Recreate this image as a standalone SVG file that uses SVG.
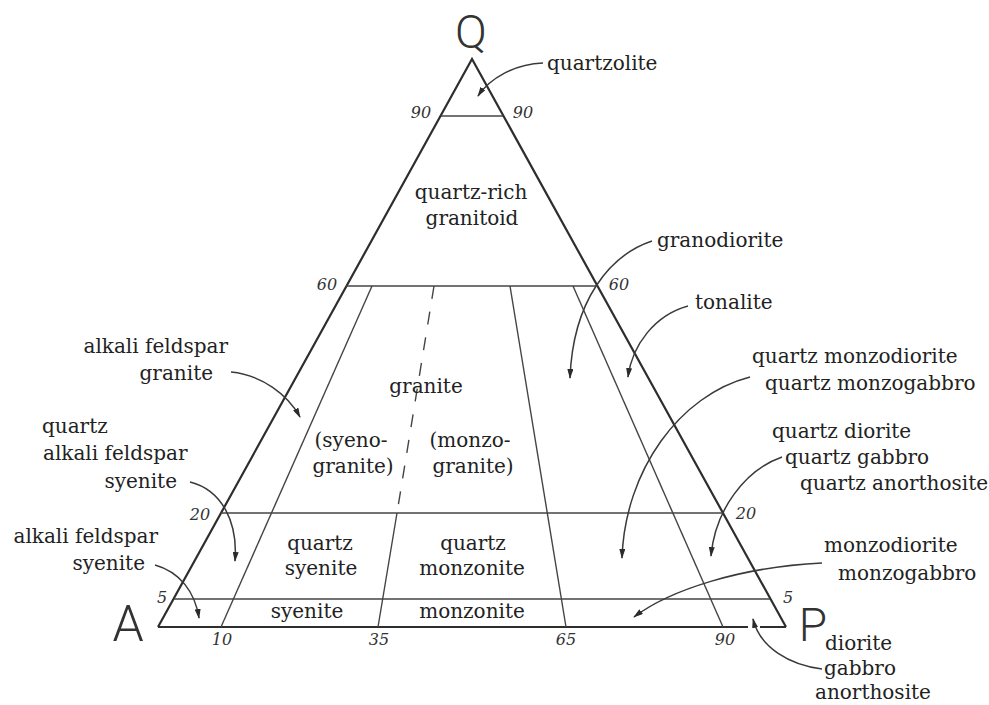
<svg xmlns="http://www.w3.org/2000/svg" width="989" height="705" viewBox="0 0 989 705">
<defs>
<style>
.side{fill:none;stroke:#2e2e2e;stroke-width:2.2;stroke-linejoin:miter}
.ln{fill:none;stroke:#444;stroke-width:1.4}
.dash{fill:none;stroke:#444;stroke-width:1.4;stroke-dasharray:13 13}
.arr{fill:none;stroke:#3a3a3a;stroke-width:1.5;marker-end:url(#ah)}
.lbl{font-family:"DejaVu Serif","Liberation Serif",serif;font-size:20px;fill:#222}
.tick{font-family:"DejaVu Serif","Liberation Serif",serif;font-style:italic;font-size:16px;fill:#333}
.big{font-family:Roboto,"Liberation Sans",sans-serif;font-weight:300;fill:#333}
</style>
<marker id="ah" viewBox="0 0 10 6" refX="9" refY="3" markerWidth="10" markerHeight="6" markerUnits="userSpaceOnUse" orient="auto">
<path d="M0,0 L10,3 L0,6 Z" fill="#2b2b2b"/>
</marker>
</defs>
<rect width="989" height="705" fill="#fff"/>

<g id="triangle">
<path class="side" d="M158,627 L472,59 L786,627"/>
<path class="side" d="M158,627 L748,627 M760,627 L786,627"/>
</g>

<g id="field-lines">
<line class="ln" x1="441" y1="116" x2="503" y2="116"/>
<line class="ln" x1="346" y1="286" x2="598" y2="286"/>
<line class="ln" x1="221" y1="513" x2="723" y2="513"/>
<line class="ln" x1="174" y1="599" x2="770" y2="599"/>
<line class="ln" x1="372" y1="286" x2="221" y2="627"/>
<line class="dash" x1="434" y1="286" x2="397" y2="513"/>
<line class="ln" x1="397" y1="513" x2="378" y2="627"/>
<line class="ln" x1="510" y1="286" x2="566" y2="627"/>
<line class="ln" x1="573" y1="286" x2="723" y2="627"/>
</g>

<g id="connectors">
<path class="arr" d="M543,63 C515,64 490,78 478,96"/>
<path class="arr" d="M652,241 C610,255 573,300 570,378"/>
<path class="arr" d="M688,306 C655,315 632,345 628,377"/>
<path class="arr" d="M750,377 C680,395 625,470 622,558"/>
<path class="arr" d="M782,457 C745,470 715,510 711,556"/>
<path class="arr" d="M822,563 C740,567 670,590 634,617"/>
<path class="arr" d="M822,669 C790,665 760,648 753,619"/>
<path class="arr" d="M231,372 C262,375 288,395 300,417"/>
<path class="arr" d="M190,482 C222,490 238,522 235,561"/>
<path class="arr" d="M155,565 C180,572 195,592 199,618"/>
</g>

<g id="vertex-labels">
<text class="big" x="471" y="48" font-size="47" text-anchor="middle">Q</text>
<text class="big" x="128" y="641" font-size="50" text-anchor="middle">A</text>
<text class="big" x="813" y="641" font-size="46" text-anchor="middle">P</text>
</g>

<g id="ticks">
<text class="tick" x="421" y="118" text-anchor="middle">90</text>
<text class="tick" x="523" y="118" text-anchor="middle">90</text>
<text class="tick" x="327" y="290" text-anchor="middle">60</text>
<text class="tick" x="619" y="290" text-anchor="middle">60</text>
<text class="tick" x="200" y="520" text-anchor="middle">20</text>
<text class="tick" x="746" y="519" text-anchor="middle">20</text>
<text class="tick" x="162" y="603" text-anchor="middle" font-size="14">5</text>
<text class="tick" x="788" y="603" text-anchor="middle" font-size="14">5</text>
<text class="tick" x="222" y="645" text-anchor="middle">10</text>
<text class="tick" x="379" y="645" text-anchor="middle">35</text>
<text class="tick" x="566" y="645" text-anchor="middle">65</text>
<text class="tick" x="725" y="645" text-anchor="middle">90</text>
</g>

<g id="field-names">
<text class="lbl" x="471" y="199" text-anchor="middle">quartz-rich</text>
<text class="lbl" x="472" y="225" text-anchor="middle">granitoid</text>
<text class="lbl" x="426" y="393" text-anchor="middle">granite</text>
<text class="lbl" x="351" y="447" text-anchor="middle">(syeno-</text>
<text class="lbl" x="353" y="473" text-anchor="middle">granite)</text>
<text class="lbl" x="470" y="447" text-anchor="middle">(monzo-</text>
<text class="lbl" x="473" y="473" text-anchor="middle">granite)</text>
<text class="lbl" x="320" y="550" text-anchor="middle">quartz</text>
<text class="lbl" x="321" y="575" text-anchor="middle">syenite</text>
<text class="lbl" x="473" y="550" text-anchor="middle">quartz</text>
<text class="lbl" x="472" y="575" text-anchor="middle">monzonite</text>
<text class="lbl" x="307" y="618" text-anchor="middle">syenite</text>
<text class="lbl" x="472" y="618" text-anchor="middle">monzonite</text>
</g>

<g id="callout-labels">
<text class="lbl" x="547" y="70">quartzolite</text>
<text class="lbl" x="657" y="247">granodiorite</text>
<text class="lbl" x="695" y="309">tonalite</text>
<text class="lbl" x="752" y="363">quartz monzodiorite</text>
<text class="lbl" x="765" y="390">quartz monzogabbro</text>
<text class="lbl" x="772" y="438">quartz diorite</text>
<text class="lbl" x="785" y="464">quartz gabbro</text>
<text class="lbl" x="800" y="490">quartz anorthosite</text>
<text class="lbl" x="824" y="552">monzodiorite</text>
<text class="lbl" x="838" y="580">monzogabbro</text>
<text class="lbl" x="825" y="650">diorite</text>
<text class="lbl" x="824" y="675">gabbro</text>
<text class="lbl" x="815" y="699">anorthosite</text>
<text class="lbl" x="228" y="353" text-anchor="end">alkali feldspar</text>
<text class="lbl" x="213" y="380" text-anchor="end">granite</text>
<text class="lbl" x="42" y="433">quartz</text>
<text class="lbl" x="43" y="460">alkali feldspar</text>
<text class="lbl" x="177" y="488" text-anchor="end">syenite</text>
<text class="lbl" x="158" y="543" text-anchor="end">alkali feldspar</text>
<text class="lbl" x="145" y="570" text-anchor="end">syenite</text>
</g>
</svg>
